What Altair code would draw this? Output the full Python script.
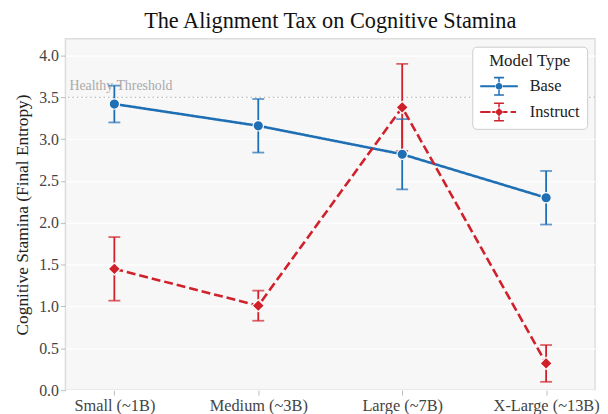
import altair as alt
import pandas as pd

sizes = ["Small (~1B)", "Medium (~3B)", "Large (~7B)", "X-Large (~13B)"]
models = ["Base", "Instruct"]
base_mean = [3.42, 3.16, 2.82, 2.30]
base_err = [0.22, 0.32, 0.42, 0.32]
instr_mean = [1.45, 1.01, 3.38, 0.32]
instr_err = [0.38, 0.18, 0.52, 0.22]
threshold = 3.5

rows = []
for m, means, errs in [("Base", base_mean, base_err), ("Instruct", instr_mean, instr_err)]:
    for s, v, e in zip(sizes, means, errs):
        rows.append({"model": m, "size": s, "mean": v, "lo": v - e, "hi": v + e})
df = pd.DataFrame(rows)

BLUE = "#1f6fb5"
RED = "#d0202a"
FONT = "Liberation Serif"

# custom legend glyphs (errorbar style); path units scaled by K
K = 1.9

def rect(x0, y0, x1, y1):
    x0, y0, x1, y1 = [round(v * K, 4) for v in (x0, y0, x1, y1)]
    return f"M{x0},{y0}L{x1},{y0}L{x1},{y1}L{x0},{y1}Z"

def circle(r):
    r = round(r * K, 4)
    return f"M{r},0A{r},{r} 0 1,1 {-r},0A{r},{r} 0 1,1 {r},0Z"

def diamond(r):
    r = round(r * K, 4)
    return f"M0,{-r}L{r},0L0,{r}L{-r},0Z"

lw = 0.055
vw = 0.04
base_glyph = (rect(-1, -lw, -0.2, lw) + rect(0.2, -lw, 1, lw) +
              rect(-vw, -0.5, vw, -0.2) + rect(-vw, 0.2, vw, 0.5) +
              rect(-0.26, -0.5, 0.26, -0.42) + rect(-0.26, 0.42, 0.26, 0.5) +
              circle(0.18))
instr_glyph = (rect(-1, -lw, -0.45, lw) + rect(-0.36, -lw, -0.22, lw) +
               rect(0.22, -lw, 0.45, lw) + rect(0.62, -lw, 0.9, lw) +
               rect(-vw, -0.5, vw, -0.24) + rect(-vw, 0.24, vw, 0.5) +
               rect(-0.26, -0.5, 0.26, -0.42) + rect(-0.26, 0.42, 0.26, 0.5) +
               diamond(0.22))

x_enc = alt.X("size:N", sort=sizes, title=None,
              scale=alt.Scale(type="point", padding=0.34),
              axis=alt.Axis(labelAngle=0, labelFontSize=16.5, labelColor="#444",
                            tickColor="#bbbbbb", tickSize=5, domain=False,
                            grid=False, labelPadding=3))
y_scale = alt.Scale(domain=[0, 4.2], nice=False)
y_axis = alt.Axis(values=[0, 0.5, 1, 1.5, 2, 2.5, 3, 3.5, 4], format=".1f",
                  labelFontSize=16, labelColor="#444", tickColor="#bbbbbb",
                  tickSize=5, domain=False, gridColor="white", gridWidth=1.2,
                  title="Cognitive Stamina (Final Entropy)", titleFontSize=17.5,
                  titleFontWeight="normal", titleColor="#222", titlePadding=7)
color_scale = alt.Scale(domain=models, range=[BLUE, RED])
col = alt.Color("model:N", scale=color_scale, legend=None)

base = alt.Chart(df)

err = base.mark_rule(strokeWidth=1.8).encode(
    x=x_enc, y=alt.Y("lo:Q", scale=y_scale, axis=y_axis), y2="hi:Q", color=col)
cap_lo = base.mark_tick(size=12, thickness=1.8, orient="horizontal").encode(
    x=x_enc, y=alt.Y("lo:Q", scale=y_scale), color=col)
cap_hi = base.mark_tick(size=12, thickness=1.8, orient="horizontal").encode(
    x=x_enc, y=alt.Y("hi:Q", scale=y_scale), color=col)
lines = base.mark_line(strokeWidth=2.6).encode(
    x=x_enc, y=alt.Y("mean:Q", scale=y_scale), color=col,
    strokeDash=alt.StrokeDash("model:N", scale=alt.Scale(domain=models, range=[[1, 0], [9, 4]]), legend=None))
pts_base = base.transform_filter("datum.model == 'Base'").mark_point(
    shape="circle", filled=True, size=110, stroke="white", strokeWidth=1.2, opacity=1).encode(
    x=x_enc, y=alt.Y("mean:Q", scale=y_scale), color=col)
pts_instr = base.transform_filter("datum.model == 'Instruct'").mark_point(
    shape="diamond", filled=True, size=150, stroke="white", strokeWidth=1.2, opacity=1).encode(
    x=x_enc, y=alt.Y("mean:Q", scale=y_scale), color=col)

leg = alt.Legend(title="Model Type", orient="top-right", offset=8, symbolSize=400,
                 symbolOffset=9, labelOffset=20)
legend_layer = base.transform_filter("datum.model == 'none'").mark_point(
    filled=True, opacity=1, size=400).encode(
    x=x_enc, y=alt.Y("mean:Q", scale=y_scale),
    color=alt.Color("model:N", scale=color_scale, legend=leg),
    shape=alt.Shape("model:N", scale=alt.Scale(domain=models, range=[base_glyph, instr_glyph]),
                    legend=leg))

thr_df = pd.DataFrame({"y": [threshold], "label": ["Healthy Threshold"]})
thr_rule = alt.Chart(thr_df).mark_rule(color="#bbbbbb", strokeDash=[1.5, 3], strokeWidth=1.2).encode(
    y=alt.Y("y:Q", scale=y_scale))
thr_text = alt.Chart(thr_df).mark_text(align="left", baseline="bottom", dx=4, dy=-4,
                                       fontSize=14, color="#aaaaaa", font=FONT).encode(
    x=alt.value(0), y=alt.Y("y:Q", scale=y_scale), text="label:N")

chart = alt.layer(thr_rule, thr_text, err, cap_lo, cap_hi, lines, pts_base, pts_instr, legend_layer).resolve_scale(
    color="independent", shape="independent", strokeDash="independent"
).properties(
    width=535, height=355,
    title=alt.TitleParams("The Alignment Tax on Cognitive Stamina", fontSize=22.5,
                          fontWeight="normal", color="#111", anchor="middle", offset=6),
    padding={"left": 6, "top": 0, "right": 0, "bottom": 0}
).configure(font=FONT).configure_view(
    fill="#f7f7f7", stroke="#dddddd", strokeWidth=1.5
).configure_legend(
    fillColor="white", strokeColor="#cccccc", cornerRadius=4, padding=7,
    titleFontSize=17, titleFontWeight="normal", titleColor="#222", titleAnchor="middle",
    labelFontSize=16.5, labelColor="#222", rowPadding=5
)

chart.save("out.html", embed_options={"renderer": "svg", "actions": False})
